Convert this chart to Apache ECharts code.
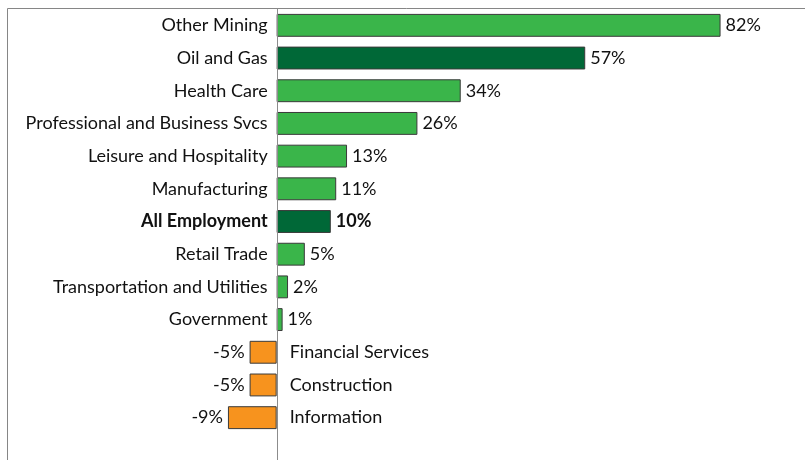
<!DOCTYPE html>
<html>
<head>
<meta charset="utf-8">
<script src="https://cdn.jsdelivr.net/npm/echarts@6/dist/echarts.min.js"></script>
<style>
  html, body { margin: 0; padding: 0; background: #fff; }
  #main { width: 805px; height: 460px; }
</style>
</head>
<body>
<div id="main"></div>
<script>
// 行业就业变化
var categories = ['Other Mining', 'Oil and Gas', 'Health Care', 'Professional and Business Svcs',
	'Leisure and Hospitality', 'Manufacturing', 'All Employment', 'Retail Trade',
	'Transportation and Utilities', 'Government', 'Financial Services', 'Construction', 'Information'];
var values = [82, 57, 34, 26, 13, 11, 10, 5.2, 2.1, 1.1, -5, -5, -9];
var darkRows = ['Oil and Gas', 'All Employment'];
var boldRow = 'All Employment';

var FONT = 'Lato';
var FS = 18;
var X_MIN = -50, X_MAX = 100;
var GRID_LEFT = 6, GRID_W = 812;

function barColor(name, v) {
	if (v < 0) return '#F7931E';
	return darkRows.indexOf(name) >= 0 ? '#006837' : '#3AB54A';
}

var mainData = categories.map(function (name, i) {
	var item = {
		value: values[i],
		itemStyle: { color: barColor(name, values[i]) },
		label: { position: values[i] < 0 ? 'left' : 'right' }
	};
	if (name === boldRow) item.label.fontWeight = 'bold';
	return item;
});
// 负值行的类别名放在零线右侧
var nameData = values.map(function (v) { return v < 0 ? 0 : null; });

// y轴移到零线处
var zeroOffset = -GRID_W * (0 - X_MIN) / (X_MAX - X_MIN);

var myChart = echarts.init(document.getElementById('main'));
var option = {
	animation: false,
	textStyle: { fontFamily: FONT },
	grid: { left: GRID_LEFT, width: GRID_W, top: 9, height: 425, containLabel: false, outerBoundsMode: 'none' },
	xAxis: {
		type: 'value',
		min: X_MIN,
		max: X_MAX,
		show: false
	},
	yAxis: {
		type: 'category',
		inverse: true,
		data: categories,
		offset: zeroOffset,
		axisLine: { show: false, onZero: false },
		axisTick: { show: false },
		splitLine: { show: false },
		axisLabel: {
			margin: 9,
			fontFamily: FONT,
			fontSize: FS,
			color: '#111',
			formatter: function (value, index) {
				if (values[index] < 0) return '';
				return value === boldRow ? '{b|' + value + '}' : value;
			},
			rich: {
				b: { fontFamily: FONT, fontSize: FS, fontWeight: 'bold', color: '#111' }
			}
		}
	},
	series: [
		{
			type: 'bar',
			data: mainData,
			barCategoryGap: '30%',
			itemStyle: { borderColor: '#3a3a3a', borderWidth: 1 },
			label: {
				show: true,
				distance: 5,
				fontFamily: FONT,
				fontSize: FS,
				color: '#111',
				formatter: function (p) { return Math.round(p.value) + '%'; }
			}
		},
		{
			type: 'bar',
			data: nameData,
			barGap: '-100%',
			silent: true,
			itemStyle: { color: 'transparent', borderWidth: 0 },
			label: {
				show: true,
				position: 'right',
				distance: 13,
				fontFamily: FONT,
				fontSize: FS,
				color: '#111',
				formatter: '{b}'
			}
		}
	]
};
myChart.setOption(option);

// 外框和零线
var x0 = Math.round(myChart.convertToPixel({ xAxisIndex: 0 }, 0)) + 0.5;
myChart.setOption({
	graphic: [
		{ type: 'line', shape: { x1: 7.5, y1: 8.5, x2: 805, y2: 8.5 }, style: { stroke: '#868686', lineWidth: 1 }, silent: true },
		{ type: 'line', shape: { x1: 7.5, y1: 8.5, x2: 7.5, y2: 460 }, style: { stroke: '#868686', lineWidth: 1 }, silent: true },
		{ type: 'line', z: 100, shape: { x1: x0, y1: 8.5, x2: x0, y2: 460 }, style: { stroke: '#8c8c8c', lineWidth: 1 }, silent: true }
	]
});
</script>
</body>
</html>
